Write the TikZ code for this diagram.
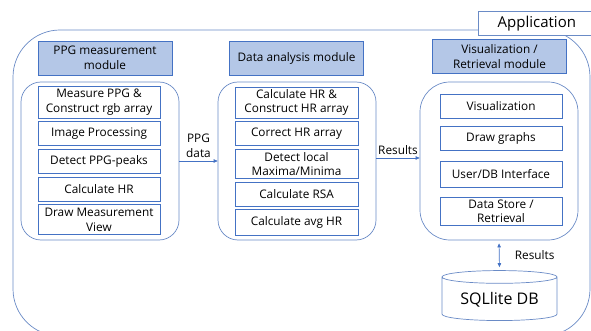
\documentclass[tikz,border=0pt]{standalone}
\usepackage{fontspec}
\setmainfont{Open Sans}
\usetikzlibrary{positioning,shapes.geometric,arrows.meta}
\definecolor{boxblue}{HTML}{4472C4}
\definecolor{headfill}{HTML}{B4C7E7}
\definecolor{lineblue}{HTML}{6A8BC6}

\begin{document}
\begin{tikzpicture}[x=1pt, y=-1pt, font=\fontsize{11.8}{14.5}\selectfont, node distance=3pt,
        head/.style = {draw=boxblue, fill=headfill, line width=0.9pt, minimum width=134pt, minimum height=34pt, align=center, inner sep=1pt},
        item/.style = {draw=boxblue, line width=0.7pt, minimum width=122pt, minimum height=24pt, align=center, inner sep=1pt},
        group/.style = {draw=lineblue, line width=0.7pt, rounded corners=20pt, minimum width=158pt, minimum height=158pt},
        flow/.style = {-{Triangle[length=4pt,width=3.5pt]}, draw=boxblue, line width=0.7pt}]
                \useasboundingbox (0,0) rectangle (591,331);
                \draw[lineblue, line width=0.7pt, rounded corners=47pt] (13,30) rectangle (590,336);
                \node[draw=lineblue, line width=0.7pt, fill=white, anchor=north west, minimum width=117pt, minimum height=24pt, font=\fontsize{15}{18}\selectfont] (app) at (478,11) {Application};
                % module frames
                \node[group] (pm) at (100,161) {};
                \node[group] (da) at (297,161) {};
                \node[group, rounded corners=30pt] (vr) at (499,161) {};
                \node[head] (pmh) at (105,58) {PPG measurement\\module};
                \node[head] (dah) at (296.5,58) {Data analysis module};
                \node[head] (vrh) at (499.5,56.5) {Visualization /\\Retrieval module};
                % PPG measurement
                \node[item, minimum height=32pt] (m0) at (99,102) {Measure PPG \&\\Construct rgb array};
                \node[item] (m1) [below=of m0] {Image Processing};
                \node[item] (m2) [below=of m1] {Detect PPG-peaks};
                \node[item] (m3) [below=of m2] {Calculate HR};
                \node[item, minimum height=30pt] (m4) [below=of m3] {Draw Measurement\\View};
                % data analysis
                \node[item, minimum width=123pt, minimum height=31pt] (d0) at (296.5,102.5) {Calculate HR \&\\Construct HR array};
                \node[item, minimum width=123pt] (d1) [below=of d0] {Correct HR array};
                \node[item, minimum width=123pt, minimum height=29pt] (d2) [below=of d1] {Detect local\\Maxima/Minima};
                \node[item, minimum width=123pt] (d3) [below=of d2] {Calculate RSA};
                \node[item, minimum width=123pt, minimum height=26pt] (d4) [below=of d3] {Calculate avg HR};
                % visualization / retrieval
                \node[item] (v0) at (501,106) {Visualization};
                \node[item] (v1) [below=8pt of v0] {Draw graphs};
                \node[item, minimum height=26pt] (v2) [below=10pt of v1] {User/DB Interface};
                \node[item, minimum height=28pt] (v3) [below=9pt of v2] {Data Store /\\Retrieval};
                \node[cylinder, shape border rotate=90, draw=lineblue, line width=0.7pt, aspect=0.15, minimum width=115pt, minimum height=50pt, font=\fontsize{16}{18}\selectfont] (db) at (499.5,300) {SQLlite DB};
                \draw[flow] (pm) -- node[midway, above, align=center] {PPG\\data} (da);
                \draw[flow] ([yshift=3pt]da.east) -- node[midway, above] {Results} ([yshift=3pt]vr.west);
                \draw[flow, {Triangle[length=4pt,width=3.5pt]}-{Triangle[length=4pt,width=3.5pt]}, shorten <=3pt, shorten >=3pt] (vr.south) -- node[midway, right=12pt] {Results} (db.north);
            \end{tikzpicture}
\end{document}
